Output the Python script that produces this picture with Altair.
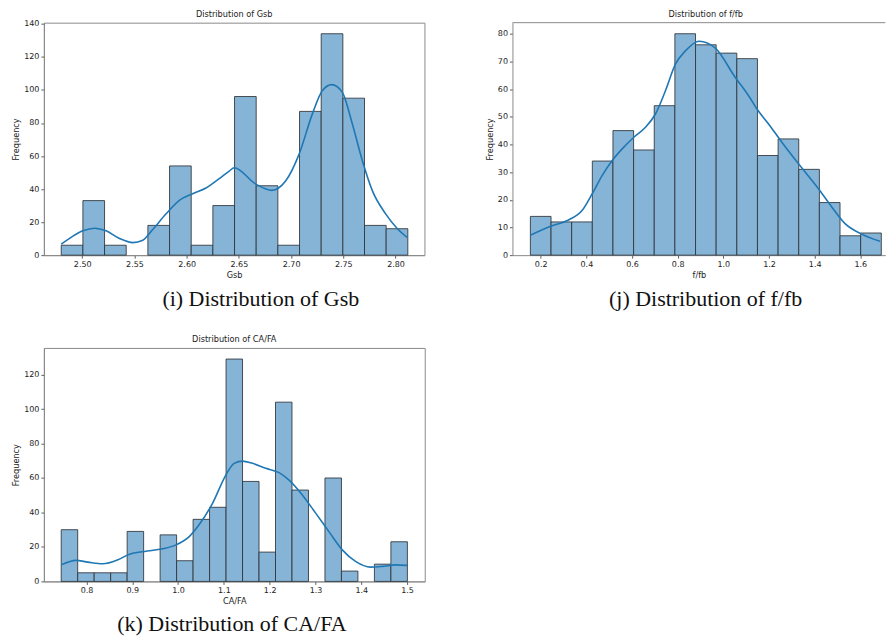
import altair as alt
import numpy as np
import pandas as pd

# ---- Gsb -------------------------------------------------------------
gsb_counts = [6, 33, 6, 0, 18, 54, 6, 30, 96, 42, 6, 87, 134, 95, 18, 16]
gsb_range = (2.4799, 2.8118)
gsb_kde_x = [2.4799, 2.4911, 2.5006, 2.5118, 2.5229, 2.5357, 2.5484, 2.558, 2.5675,
             2.5803, 2.593, 2.6057, 2.6185, 2.6312, 2.6408, 2.6455, 2.6662, 2.6815,
             2.6949, 2.7076, 2.7204, 2.73, 2.7389, 2.749, 2.7586, 2.7682, 2.7777,
             2.7904, 2.8016, 2.8111]
gsb_kde_y = [6.6, 11.5, 14.7, 16.3, 14.7, 10.1, 7.6, 9.0, 15.5,
             25.0, 33.2, 37.2, 40.6, 46.3, 50.9, 52.9, 43.0, 39.2,
             45.0, 61.0, 85.5, 99.6, 103.2, 98.6, 79.5, 57.3, 39.2,
             25.1, 16.1, 10.7]
gsb_xticks = [2.50, 2.55, 2.60, 2.65, 2.70, 2.75, 2.80]
gsb_yticks = [0, 20, 40, 60, 80, 100, 120, 140]

# ---- f/fb ------------------------------------------------------------
ffb_counts = [14, 12, 12, 34, 45, 38, 54, 80, 76, 73, 71, 36, 42, 31, 19, 7, 8]
ffb_range = (0.1548, 1.6918)
ffb_kde_x = [0.1548, 0.2437, 0.3238, 0.3821, 0.4258, 0.4695, 0.5132, 0.5569, 0.6079,
             0.6589, 0.7026, 0.7463, 0.79, 0.8337, 0.894, 0.9649, 1.0523, 1.1105,
             1.147, 1.198, 1.2562, 1.3291, 1.4165, 1.4748, 1.533, 1.6059, 1.686]
ffb_kde_y = [7.2, 10.4, 12.8, 16.2, 22.2, 28.8, 34.2, 38.4, 42.6,
             46.2, 51.0, 59.4, 69.0, 73.8, 77.3, 74.8, 64.2, 57.6,
             52.8, 47.4, 40.8, 33.0, 24.0, 17.4, 11.4, 7.6, 5.0]
ffb_xticks = [0.2, 0.4, 0.6, 0.8, 1.0, 1.2, 1.4, 1.6]
ffb_yticks = [0, 10, 20, 30, 40, 50, 60, 70, 80]

# ---- CA/FA -----------------------------------------------------------
cafa_counts = [30, 5, 5, 5, 29, 0, 27, 12, 36, 43, 129, 58, 17, 104, 53, 0, 60, 6, 0, 10, 23]
cafa_range = (0.7448, 1.5007)
cafa_kde_x = [0.7448, 0.7775, 0.8029, 0.8356, 0.8683, 0.8937, 0.9264, 0.9663, 0.9954,
              1.0244, 1.0462, 1.0752, 1.1043, 1.1224, 1.1406, 1.1624, 1.1914, 1.2205,
              1.2423, 1.2713, 1.3004, 1.3294, 1.3585, 1.3875, 1.4202, 1.4456, 1.4747, 1.5]
cafa_kde_y = [9.6, 12.2, 11.2, 10.2, 12.5, 15.8, 17.4, 18.9, 21.2,
              26.0, 33.0, 45.3, 61.7, 68.5, 69.8, 68.5, 65.6, 63.1,
              58.8, 50.2, 39.6, 28.9, 18.3, 11.6, 8.3, 8.7, 9.6, 9.3]
cafa_xticks = [0.8, 0.9, 1.0, 1.1, 1.2, 1.3, 1.4, 1.5]
cafa_yticks = [0, 20, 40, 60, 80, 100, 120]

BAR_FILL = "#86b4d6"
BAR_EDGE = "#2e3338"
LINE = "#1f77b4"
FRAME = "#8a8a8a"
SANS = "DejaVu Sans"
SERIF = "Liberation Serif"


def axis(values, fmt, title):
    return alt.Axis(
        values=values, format=fmt, title=title, grid=False,
        domain=True, domainColor=FRAME, domainWidth=1,
        ticks=True, tickSize=3, tickColor="#333", tickWidth=0.8,
        labelFont=SANS, labelFontSize=8, labelColor="#222", labelPadding=2,
        labelOverlap=False,
        titleFont=SANS, titleFontSize=8.2, titleFontWeight="normal",
        titleColor="#222", titlePadding=3,
    )


def panel(name, counts, rng, kx, ky, xdom, ydom, xticks, yticks, xfmt,
          w, h, title_x, caption, cap_x, cap_y, framed=True):
    edges = np.linspace(rng[0], rng[1], len(counts) + 1)
    bars = pd.DataFrame({"lo": edges[:-1], "hi": edges[1:], "n": counts})
    bars = bars[bars["n"] > 0]
    kde = pd.DataFrame({"lo": kx, "n": ky})

    xs = alt.Scale(domain=xdom, nice=False, zero=False)
    ys = alt.Scale(domain=ydom, nice=False, zero=False)
    xax = axis(xticks, xfmt, name)
    yax = axis(yticks, "d", "Frequency")

    hist = alt.Chart(bars).mark_rect(
        fill=BAR_FILL, stroke=BAR_EDGE, strokeWidth=1, strokeOpacity=0.85
    ).encode(
        x=alt.X("lo:Q", scale=xs, axis=xax),
        x2="hi:Q",
        y=alt.Y("n:Q", scale=ys, axis=yax),
        y2=alt.datum(0),
    )
    curve = alt.Chart(kde).mark_line(
        interpolate="monotone", color=LINE, strokeWidth=1.6
    ).encode(
        x=alt.X("lo:Q", scale=xs, axis=xax),
        y=alt.Y("n:Q", scale=ys, axis=yax),
    )

    title = alt.Chart(pd.DataFrame({"t": ["Distribution of " + name]})).mark_text(
        font=SANS, fontSize=8.2, color="#222", align="center", baseline="middle"
    ).encode(x=alt.value(title_x), y=alt.value(-8), text="t:N")

    cap = alt.Chart(pd.DataFrame({"t": [caption]})).mark_text(
        font=SERIF, fontSize=22, color="#111", align="center", baseline="alphabetic"
    ).encode(x=alt.value(cap_x), y=alt.value(cap_y), text="t:N")

    layers = [hist, curve, title, cap]
    if not framed:
        top = alt.Chart(pd.DataFrame({"a": [0]})).mark_rule(
            color=FRAME, strokeWidth=1
        ).encode(x=alt.value(0), x2=alt.value(w), y=alt.value(0))
        layers.append(top)
    ch = alt.layer(*layers).properties(width=w, height=h)
    if not framed:
        ch = ch.properties(view=alt.ViewBackground(stroke="transparent"))
    return ch


p1 = panel("Gsb", gsb_counts, gsb_range, gsb_kde_x, gsb_kde_y,
           [2.4633, 2.8277], [0, 140.7], gsb_xticks, gsb_yticks, ".2f",
           381.4, 233, 190.7, "(i) Distribution of Gsb", 217.4, 284)
p2 = panel("f/fb", ffb_counts, ffb_range, ffb_kde_x, ffb_kde_y,
           [0.0762, 1.7093], [0, 84], ffb_xticks, ffb_yticks, ".1f",
           373.7, 233, 193.6, "(j) Distribution of f/fb", 193.6, 284, framed=False)
p3 = panel("CA/FA", cafa_counts, cafa_range, cafa_kde_x, cafa_kde_y,
           [0.707, 1.5386], [0, 135.45], cafa_xticks, cafa_yticks, ".1f",
           381.7, 234, 190.8, "(k) Distribution of CA/FA", 188.4, 284)

chart = alt.concat(
    p1, p2, p3, columns=2,
    spacing=alt.RowColnumber(row=93, column=87.6),
    bounds="flush",
).properties(
    padding={"left": 11, "top": 8, "right": 0, "bottom": 0},
    background="white",
).configure_view(
    stroke=FRAME, strokeWidth=1
)

chart.save("out.html", embed_options={"renderer": "svg", "actions": False})
